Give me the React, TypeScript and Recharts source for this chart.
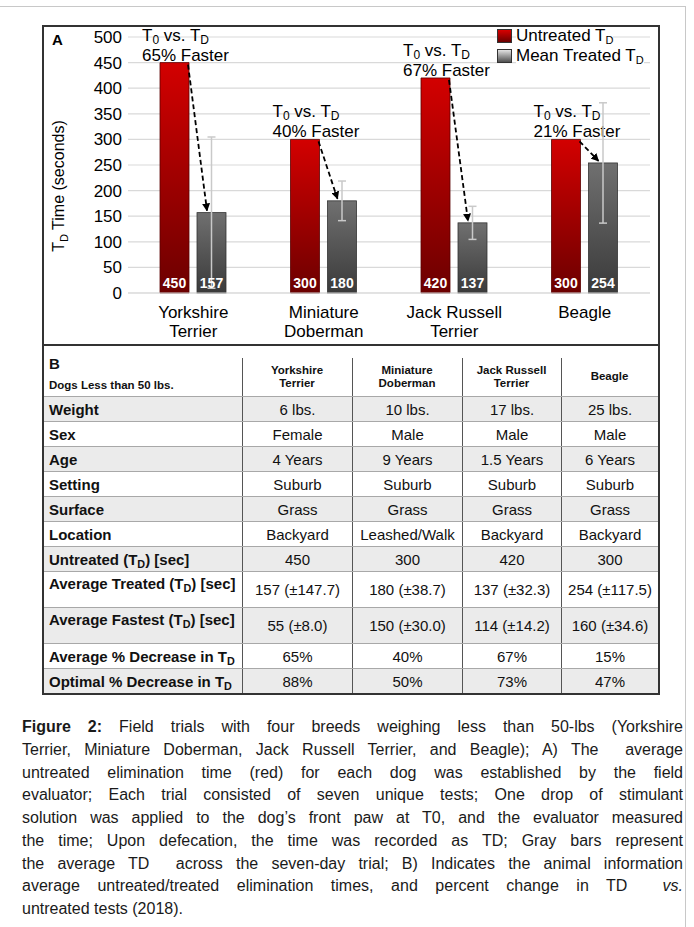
import React from 'react';
import { BarChart, Bar, XAxis, YAxis, CartesianGrid, LabelList, ErrorBar, Legend } from 'recharts';

const breeds = ['Yorkshire Terrier', 'Miniature Doberman', 'Jack Russell Terrier', 'Beagle'];
const untreatedTd = [450, 300, 420, 300];
const meanTreatedTd = [157, 180, 137, 254];
const treatedSd = [147.7, 38.7, 32.3, 117.5];
const fasterPct = [65, 40, 67, 21];
const yTicks = [0, 50, 100, 150, 200, 250, 300, 350, 400, 450, 500];

const weights = ['6 lbs.', '10 lbs.', '17 lbs.', '25 lbs.'];
const sexes = ['Female', 'Male', 'Male', 'Male'];
const ages = ['4 Years', '9 Years', '1.5 Years', '6 Years'];
const settings = ['Suburb', 'Suburb', 'Suburb', 'Suburb'];
const surfaces = ['Grass', 'Grass', 'Grass', 'Grass'];
const locations = ['Backyard', 'Leashed/Walk', 'Backyard', 'Backyard'];
const fastestTd = [55, 150, 114, 160];
const fastestSd = [8.0, 30.0, 14.2, 34.6];
const avgDecrease = [65, 40, 67, 15];
const optimalDecrease = [88, 50, 73, 47];

const FONT = '"Liberation Sans", Arial, Helvetica, sans-serif';
const BAR_GAP = 8;

const chartData = breeds.map((name, i) => ({
  name,
  untreated: untreatedTd[i],
  treated: meanTreatedTd[i],
  sd: treatedSd[i],
  faster: fasterPct[i],
}));

// "Jack Russell Terrier" -> ["Jack Russell", "Terrier"]
const splitName = (s: string) => {
  const i = s.lastIndexOf(' ');
  return i < 0 ? [s] : [s.slice(0, i), s.slice(i + 1)];
};

const BreedTick = ({ x, y, payload }: any) => {
  const lines = splitName(payload.value);
  return (
    <text x={x} y={y} textAnchor="middle" fontSize={17} fill="#000">
      {lines.map((l, i) => (
        <tspan key={i} x={x} dy={i === 0 ? 17 : 19}>{l}</tspan>
      ))}
    </text>
  );
};

const YAxisLabel = (props: any) => {
  const vb = props.viewBox || {};
  const cx = (vb.x ?? 0) + 15;
  const cy = (vb.y ?? 0) + (vb.height ?? 0) / 2 + 21;
  return (
    <text x={cx} y={cy} transform={`rotate(-90 ${cx} ${cy})`} textAnchor="middle" dy={6}
      fontSize={16} fill="#000" style={{ whiteSpace: 'pre' }}>
      T<tspan dy={4} fontSize={11}>D</tspan><tspan dy={-4}>{' Time (seconds)'}</tspan>
    </text>
  );
};

// gray bar + the dashed arrow and note coming from the red bar next to it
const TreatedShape = (props: any) => {
  const { x, y, width, height, payload } = props;
  const bottom = y + height;
  const k = height / payload.treated;
  const redTop = bottom - payload.untreated * k;
  const redRight = x - BAR_GAP;
  const redLeft = redRight - width;
  const tx = redLeft - 18;
  return (
    <g>
      <rect x={x} y={y} width={width} height={height} fill="url(#grayGrad)" stroke="#333" strokeWidth={0.8} />
      <line x1={redRight - 1} y1={redTop + 2} x2={x + 10} y2={y - 2} stroke="#000" strokeWidth={1.8}
        strokeDasharray="5 3" markerEnd="url(#arrowHead)" />
      <text x={tx} y={redTop - 22} fontSize={17} fill="#000" style={{ whiteSpace: 'pre' }}>
        T<tspan dy={3} fontSize={12}>0</tspan><tspan dy={-3}>{' vs. T'}</tspan><tspan dy={3} fontSize={12}>D</tspan>
      </text>
      <text x={tx} y={redTop - 2} fontSize={17} fill="#000">{payload.faster}% Faster</text>
    </g>
  );
};

const seriesOrder = ['untreated', 'treated'];
const legendFills: Record<string, string> = {
  untreated: 'linear-gradient(#d80000, #6a0000)',
  treated: 'linear-gradient(#e2e2e2, #505050)',
};

const renderLegend = ({ payload }: any) => {
  const items = [...(payload || [])].sort(
    (a: any, b: any) => seriesOrder.indexOf(a.dataKey) - seriesOrder.indexOf(b.dataKey)
  );
  return (
    <div>
      {items.map((p: any) => (
        <div key={p.dataKey} style={{ display: 'flex', alignItems: 'center', height: 20 }}>
          <span style={{ width: 15, height: 14, background: legendFills[p.dataKey], border: '1px solid #333', boxSizing: 'border-box' }} />
          <span style={{ marginLeft: 4, background: '#fff', fontSize: 17, lineHeight: '18px', whiteSpace: 'nowrap' }}>
            {p.value} T<span style={{ fontSize: 11, position: 'relative', top: 3 }}>D</span>
          </span>
        </div>
      ))}
    </div>
  );
};

const SubD = () => <span style={{ fontSize: '0.72em', position: 'relative', top: '0.28em' }}>D</span>;

const pm = (v: number, s: number) => `${v} (±${s.toFixed(1)})`;

const rowDefs = [
  { label: <>Weight</>, values: weights },
  { label: <>Sex</>, values: sexes },
  { label: <>Age</>, values: ages },
  { label: <>Setting</>, values: settings },
  { label: <>Surface</>, values: surfaces },
  { label: <>Location</>, values: locations },
  { label: <>Untreated (T<SubD />) [sec]</>, values: untreatedTd.map(String) },
  { label: <>Average Treated (T<SubD />) [sec]</>, values: meanTreatedTd.map((v, i) => pm(v, treatedSd[i])), tall: true },
  { label: <>Average Fastest (T<SubD />) [sec]</>, values: fastestTd.map((v, i) => pm(v, fastestSd[i])), tall: true },
  { label: <>Average % Decrease in T<SubD /></>, values: avgDecrease.map((v) => `${v}%`) },
  { label: <>Optimal % Decrease in T<SubD /></>, values: optimalDecrease.map((v) => `${v}%`) },
];

const COLS = [198, 110, 110, 99, 97];

const captionLines = [
  <><b>Figure 2:</b> Field trials with four breeds weighing less than 50-lbs (Yorkshire</>,
  <>Terrier, Miniature Doberman, Jack Russell Terrier, and Beagle); A) The  average</>,
  <>untreated elimination time (red) for each dog was established by the field</>,
  <>evaluator; Each trial consisted of seven unique tests; One drop of stimulant</>,
  <>solution was applied to the dog’s front paw at T0, and the evaluator measured</>,
  <>the time; Upon defecation, the time was recorded as TD; Gray bars represent</>,
  <>the average TD  across the seven-day trial; B) Indicates the animal information</>,
  <>average untreated/treated elimination times, and percent change in TD  <i>vs.</i></>,
  <>untreated tests (2018).</>,
];

const DataTable = () => (
  <div style={{ position: 'absolute', left: 44, top: 346, width: 614, fontSize: 15, color: '#111' }}>
    <div style={{ display: 'flex', height: 50, background: '#fff' }}>
      <div style={{ width: COLS[0], position: 'relative' }}>
        <div style={{ position: 'absolute', left: 5, top: 9, fontWeight: 'bold', fontSize: 15 }}>B</div>
        <div style={{ position: 'absolute', left: 5, top: 33, fontWeight: 'bold', fontSize: 11.5 }}>Dogs Less than 50 lbs.</div>
      </div>
      {breeds.map((b, i) => (
        <div key={b} style={{ width: COLS[i + 1], position: 'relative', paddingTop: 12, boxSizing: 'border-box',
          display: 'flex', alignItems: 'center', justifyContent: 'center', textAlign: 'center',
          fontWeight: 'bold', fontSize: 11.5, lineHeight: '13.5px' }}>
          <div style={{ position: 'absolute', left: 0, top: 12, bottom: 0, width: 1, background: '#555' }} />
          <div>{splitName(b).map((l) => <div key={l}>{l}</div>)}</div>
        </div>
      ))}
    </div>
    {rowDefs.map((r, ri) => (
      <div key={ri} style={{ display: 'flex', height: r.tall ? 36 : 25, boxSizing: 'border-box',
        borderTop: '1px solid #a8a8a8', background: ri % 2 === 0 ? '#ebebeb' : '#fff' }}>
        <div style={{ width: COLS[0], paddingLeft: 5, boxSizing: 'border-box', fontWeight: 'bold', whiteSpace: 'nowrap',
          display: 'flex', alignItems: r.tall ? 'flex-start' : 'center', paddingTop: r.tall ? 3 : 0 }}>
          <span>{r.label}</span>
        </div>
        {r.values.map((v, ci) => (
          <div key={ci} style={{ width: COLS[ci + 1], boxSizing: 'border-box', borderLeft: '1px solid #555',
            display: 'flex', alignItems: 'center', justifyContent: 'center', whiteSpace: 'nowrap' }}>
            {v}
          </div>
        ))}
      </div>
    ))}
  </div>
);

export default function App() {
  return (
    <div style={{ position: 'absolute', left: 0, top: 0, width: 694, height: 927, background: '#fff',
      fontFamily: FONT, color: '#000', overflow: 'hidden' }}>
      <div style={{ position: 'absolute', left: 0, top: 6, width: 686, height: 1, background: '#c8c8c8' }} />
      <div style={{ position: 'absolute', left: 685, top: 6, width: 1, height: 921, background: '#c8c8c8' }} />

      <div style={{ position: 'absolute', left: 43, top: 26, width: 617, height: 318 }}>
        <BarChart width={617} height={318} data={chartData} margin={{ top: 11, right: 10, left: 0, bottom: 0 }}
          barGap={BAR_GAP} barSize={29}>
          <defs>
            <linearGradient id="redGrad" x1="0" y1="0" x2="0" y2="1">
              <stop offset="0%" stopColor="#d30000" />
              <stop offset="100%" stopColor="#6c0000" />
            </linearGradient>
            <linearGradient id="grayGrad" x1="0" y1="0" x2="0" y2="1">
              <stop offset="0%" stopColor="#707070" />
              <stop offset="100%" stopColor="#3a3a3a" />
            </linearGradient>
            <marker id="arrowHead" viewBox="0 0 10 10" refX="9" refY="5" markerWidth="8" markerHeight="8"
              markerUnits="userSpaceOnUse" orient="auto">
              <path d="M0,0 L10,5 L0,10 z" fill="#000" />
            </marker>
          </defs>
          <CartesianGrid vertical={false} stroke="#d9d9d9" strokeWidth={1.2} />
          <XAxis dataKey="name" tick={<BreedTick />} tickLine={false} axisLine={{ stroke: '#d9d9d9' }} height={51} interval={0} />
          <YAxis domain={[0, 500]} ticks={yTicks} tickLine={false} axisLine={false} width={85} tickMargin={0}
            tick={{ fontSize: 17, fill: '#000' }} label={YAxisLabel} />
          <Legend content={renderLegend} layout="horizontal" verticalAlign="middle" align="center"
            wrapperStyle={{ top: 0, left: 454, width: 'auto', height: 'auto' }} />
          <Bar dataKey="untreated" name="Untreated" fill="url(#redGrad)" stroke="#5a0000" strokeWidth={0.8} isAnimationActive={false}>
            <LabelList dataKey="untreated" position="insideBottom" offset={5} fill="#fff" stroke="none" fontSize={14} fontWeight="bold" />
          </Bar>
          <Bar dataKey="treated" name="Mean Treated" fill="url(#grayGrad)" shape={TreatedShape} isAnimationActive={false}>
            <ErrorBar dataKey="sd" width={4} stroke="#c9c9c9" strokeWidth={1.5} />
            <LabelList dataKey="treated" position="insideBottom" offset={5} fill="#fff" stroke="none" fontSize={14} fontWeight="bold" />
          </Bar>
        </BarChart>
      </div>
      <div style={{ position: 'absolute', left: 52, top: 32, fontWeight: 'bold', fontSize: 15, lineHeight: '15px' }}>A</div>

      <DataTable />

      <div style={{ position: 'absolute', left: 42, top: 25, width: 618, height: 670, boxSizing: 'border-box',
        border: '2px solid #333' }} />
      <div style={{ position: 'absolute', left: 42, top: 344, width: 618, height: 2, background: '#333' }} />

      <div style={{ position: 'absolute', left: 22, top: 716, width: 661, fontSize: 16, lineHeight: '22.75px', color: '#1a1a1a' }}>
        {captionLines.map((l, i) => (
          <div key={i} style={{ textAlign: 'justify', textAlignLast: i === captionLines.length - 1 ? 'left' : 'justify',
            whiteSpace: 'pre-wrap' }}>{l}</div>
        ))}
      </div>
    </div>
  );
}
